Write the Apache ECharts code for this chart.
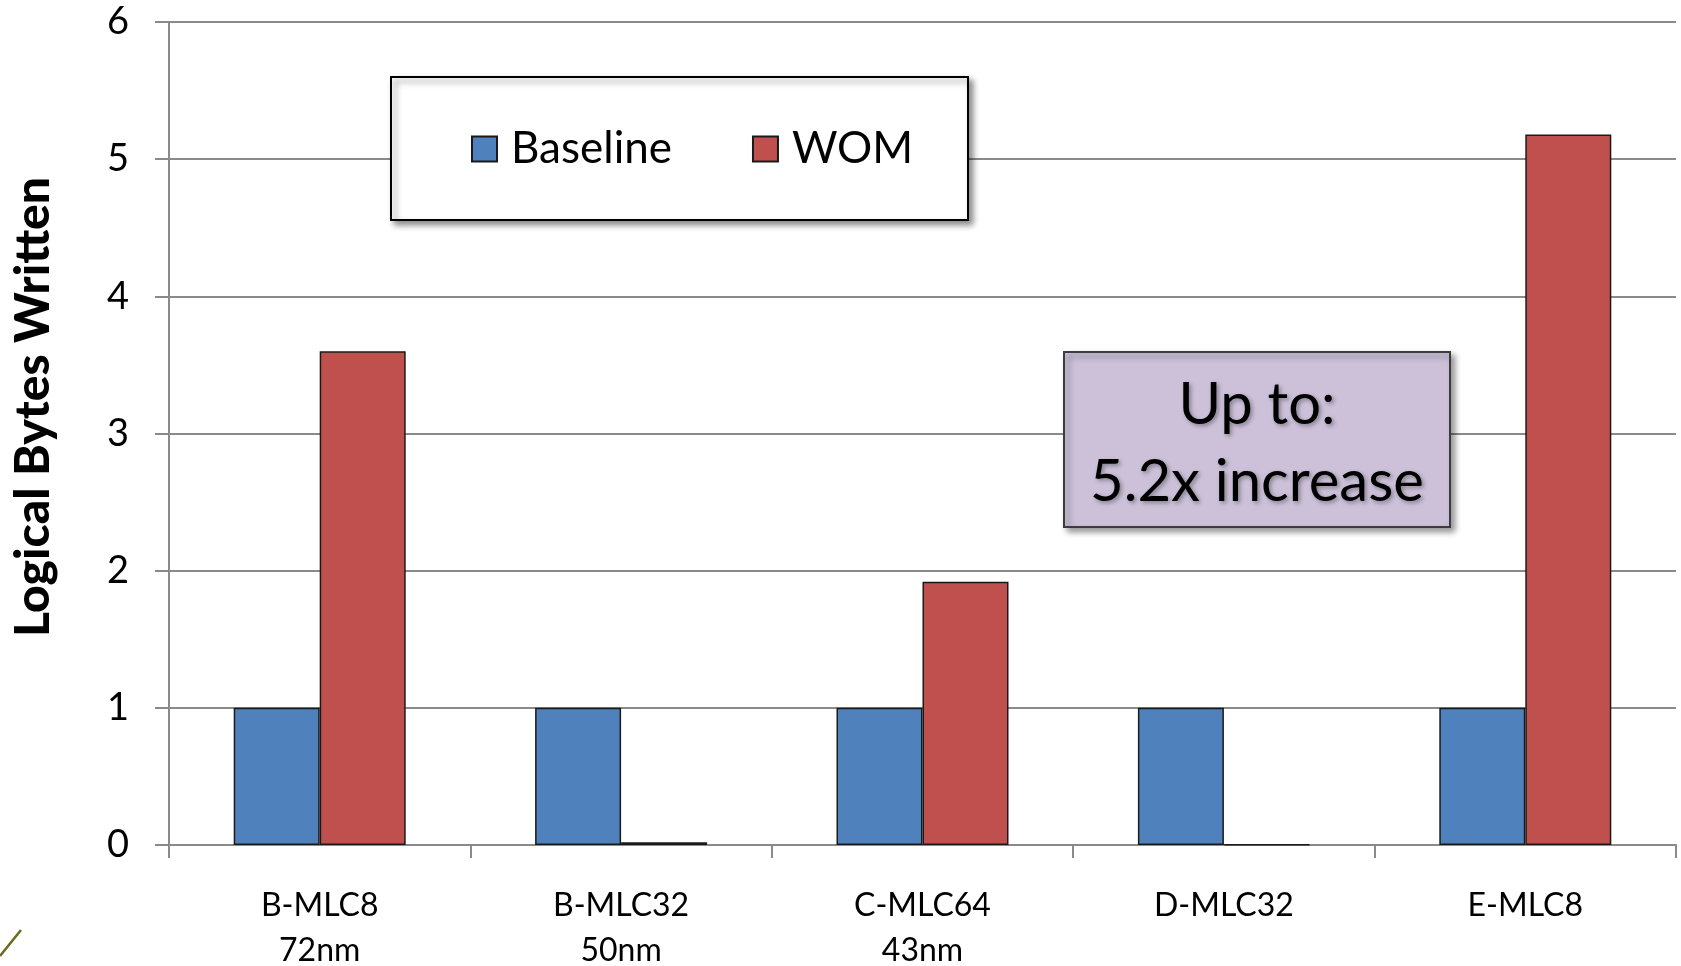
<!DOCTYPE html>
<html>
<head>
<meta charset="utf-8">
<title>Logical Bytes Written</title>
<script src="https://cdn.jsdelivr.net/npm/echarts@6/dist/echarts.min.js"></script>
<style>
  html, body { margin: 0; padding: 0; background: #ffffff; }
  #chart { width: 1681px; height: 966px; }
</style>
</head>
<body>
<div id="chart"></div>
<script>
// Chip configurations on the x axis
const categories = ['B-MLC8\n72nm', 'B-MLC32\n50nm', 'C-MLC64\n43nm', 'D-MLC32', 'E-MLC8'];
// Logical bytes written, normalised to the baseline
const baselineValues = [1, 1, 1, 1, 1];
const womValues = [3.6, 0.02, 1.92, 0.005, 5.18];
const seriesNames = ['Baseline', 'WOM'];
const calloutLines = ['Up to:', '5.2x increase'];
const yAxisTitle = 'Logical Bytes Written';

const FONT = 'Lato';
const GRID_GRAY = '#8a8a8a';

const chart = echarts.init(document.getElementById('chart'), null, { renderer: 'canvas' });

chart.setOption({
  backgroundColor: '#ffffff',
  animation: false,
  grid: { left: 169, right: 5, top: 22, bottom: 121, outerBoundsMode: 'none', containLabel: false },
  legend: {
    data: seriesNames,
    left: 471,
    top: 127,
    padding: 0,
    itemWidth: 25,
    itemHeight: 25,
    itemGap: 80,
    icon: 'rect',
    textStyle: { fontFamily: FONT, fontSize: 44, color: '#000000', padding: [0, 0, 0, 9] }
  },
  xAxis: {
    type: 'category',
    data: categories,
    axisLine: { show: true, lineStyle: { color: GRID_GRAY, width: 2 } },
    axisTick: { show: true, alignWithLabel: false, length: 13, lineStyle: { color: GRID_GRAY, width: 2 } },
    axisLabel: {
      fontFamily: FONT, fontSize: 32, color: '#000000',
      lineHeight: 45, margin: 38, interval: 0
    },
    splitLine: { show: false }
  },
  yAxis: {
    type: 'value',
    min: 0, max: 6, interval: 1,
    axisLine: { show: true, lineStyle: { color: GRID_GRAY, width: 2 } },
    axisTick: { show: true, inside: false, length: 14, lineStyle: { color: GRID_GRAY, width: 2 } },
    axisLabel: { fontFamily: FONT, fontSize: 38, color: '#000000', margin: 40 },
    splitLine: { show: true, lineStyle: { color: GRID_GRAY, width: 2 } }
  },
  series: [
    {
      name: seriesNames[0],
      type: 'bar',
      data: baselineValues,
      barWidth: 86,
      barGap: '0%',
      itemStyle: { color: '#4f81bd', borderColor: '#1a1a1a', borderWidth: 1.5 }
    },
    {
      name: seriesNames[1],
      type: 'bar',
      data: womValues,
      barWidth: 86,
      barGap: '0%',
      itemStyle: { color: '#c0504d', borderColor: '#1a1a1a', borderWidth: 1.5 }
    }
  ],
  graphic: [
    // legend frame
    {
      type: 'rect', z: 1,
      shape: { x: 391, y: 77, width: 577, height: 143 },
      style: {
        fill: '#ffffff', stroke: '#000000', lineWidth: 2,
        shadowBlur: 6, shadowOffsetX: 4, shadowOffsetY: 4, shadowColor: 'rgba(0,0,0,0.45)'
      }
    },
    // callout box
    {
      type: 'rect', z: 1,
      shape: { x: 1064, y: 352, width: 386, height: 175 },
      style: {
        fill: '#ccc1d9', stroke: '#3c3c3c', lineWidth: 2,
        shadowBlur: 6, shadowOffsetX: 4, shadowOffsetY: 4, shadowColor: 'rgba(0,0,0,0.4)'
      }
    },
    {
      type: 'text', z: 2,
      x: 1257, y: 405,
      style: {
        text: calloutLines[0], fontFamily: FONT, fontSize: 58, fill: '#000000',
        align: 'center', verticalAlign: 'middle',
        textShadowBlur: 4, textShadowOffsetX: 2, textShadowOffsetY: 2, textShadowColor: 'rgba(0,0,0,0.35)'
      }
    },
    {
      type: 'text', z: 2,
      x: 1257, y: 482,
      style: {
        text: calloutLines[1], fontFamily: FONT, fontSize: 58, fill: '#000000',
        align: 'center', verticalAlign: 'middle',
        textShadowBlur: 4, textShadowOffsetX: 2, textShadowOffsetY: 2, textShadowColor: 'rgba(0,0,0,0.35)'
      }
    },
    // y axis title
    {
      type: 'text', z: 2,
      x: 34, y: 407, rotation: Math.PI / 2,
      style: {
        text: yAxisTitle, fontFamily: FONT, fontSize: 48, fontWeight: 900, fill: '#000000',
        align: 'center', verticalAlign: 'middle'
      }
    },
    // small stroke in the lower-left corner
    {
      type: 'line', z: 2,
      shape: { x1: 0, y1: 956, x2: 21, y2: 930 },
      style: { stroke: '#6b6b1e', lineWidth: 2.5 }
    }
  ]
});
</script>
</body>
</html>
